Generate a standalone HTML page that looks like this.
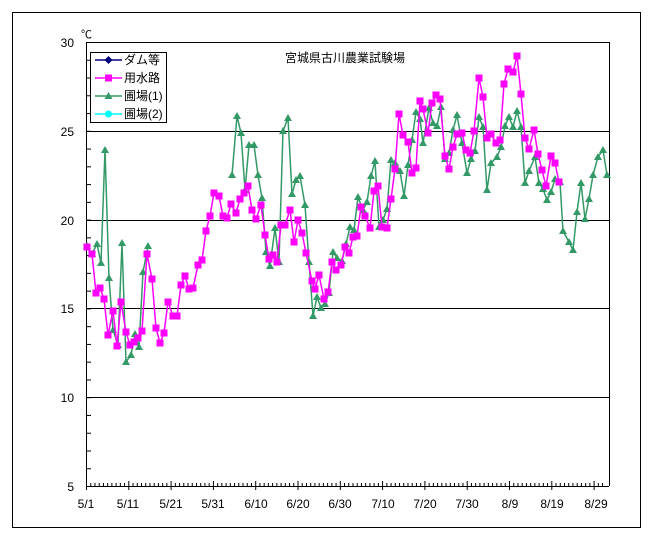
<!DOCTYPE html>
<html><head><meta charset="utf-8"><style>
html,body{margin:0;padding:0;background:#fff;}
svg{display:block;font-family:"Liberation Sans","Noto Sans CJK JP",sans-serif;}
</style></head><body>
<svg width="653" height="541" viewBox="0 0 653 541" xmlns="http://www.w3.org/2000/svg">
<defs>
<path id="tri" d="M0,-4 L4,3 L-4,3 Z" fill="#339966"/>
<rect id="sq" x="-3.5" y="-3.5" width="7" height="7" fill="#FF00FF"/>
</defs>
<rect x="12.5" y="12.5" width="628" height="515" fill="none" stroke="#000" stroke-width="1"/>
<g stroke="#000" stroke-width="1">
<line x1="86" y1="42.5" x2="609" y2="42.5"/>
<line x1="86" y1="131.5" x2="609" y2="131.5"/>
<line x1="86" y1="220.5" x2="609" y2="220.5"/>
<line x1="86" y1="308.5" x2="609" y2="308.5"/>
<line x1="86" y1="397.5" x2="609" y2="397.5"/>
<line x1="86" y1="486.5" x2="609" y2="486.5"/>
<line x1="86.5" y1="42" x2="86.5" y2="486"/>
<line x1="609.5" y1="42" x2="609.5" y2="486"/>
</g>
<g id="yt" stroke="#000" stroke-width="1"></g>
<g id="xt" stroke="#000" stroke-width="1"></g>
<g font-size="12" fill="#000" text-anchor="end">
<text x="74" y="47">30</text><text x="74" y="136">25</text><text x="74" y="225">20</text>
<text x="74" y="313">15</text><text x="74" y="402">10</text><text x="74" y="491">5</text>
</g>
<text x="81" y="38" font-size="11">℃</text>
<g font-size="12" text-anchor="middle">
<text x="86" y="508">5/1</text><text x="128" y="508">5/11</text><text x="171" y="508">5/21</text>
<text x="213" y="508">5/31</text><text x="256" y="508">6/10</text><text x="298" y="508">6/20</text>
<text x="340" y="508">6/30</text><text x="383" y="508">7/10</text><text x="425" y="508">7/20</text>
<text x="467" y="508">7/30</text><text x="510" y="508">8/9</text><text x="552" y="508">8/19</text>
<text x="596" y="508">8/29</text>
</g>
<text x="345" y="62" font-size="12" text-anchor="middle">宮城県古川農業試験場</text>
<g id="series"></g>
<rect x="90.5" y="52.5" width="76" height="70" fill="#fff" stroke="#000"/>
<g font-size="12">
<line x1="95" y1="60" x2="122" y2="60" stroke="#000080" stroke-width="1.5"/>
<path d="M108.5,56 L112.5,60 L108.5,64 L104.5,60Z" fill="#000080"/>
<text x="124" y="64">ダム等</text>
<line x1="95" y1="78" x2="122" y2="78" stroke="#FF00FF" stroke-width="1.5"/>
<rect x="105" y="74.5" width="7" height="7" fill="#FF00FF"/>
<text x="124" y="82">用水路</text>
<line x1="95" y1="96" x2="122" y2="96" stroke="#339966" stroke-width="1.5"/>
<path d="M108.5,92 L112.5,99 L104.5,99Z" fill="#339966"/>
<text x="124" y="100">圃場(1)</text>
<line x1="95" y1="114" x2="122" y2="114" stroke="#00FFFF" stroke-width="1.5"/>
<circle cx="108.5" cy="114" r="3.5" fill="#00FFFF"/>
<text x="124" y="118">圃場(2)</text>
</g>
<script>
(function(){
var ns="http://www.w3.org/2000/svg";
function el(t,a,p){var e=document.createElementNS(ns,t);for(var k in a)e.setAttribute(k,a[k]);p.appendChild(e);return e;}
var yt=document.getElementById('yt');
for(var v=5;v<=30;v++){var y=486.5-(v-5)*17.76;el('line',{x1:86,y1:y,x2:91,y2:y},yt);}
var xt=document.getElementById('xt');
for(var d=0;d<=122;d++){var x=86.5+d*4.23;var maj=d%10==0;el('line',{x1:x,y1:maj?490:486,x2:x,y2:maj?481:483},xt);}
var g1a=[[87,246],[92,254],[97,244],[101,263],[105,150],[109,278],[113,330],[118,345],[122,243],[126,362],[131,355],[135,334],[139,347],[143,272],[148,246]];
var g1b=[[232,175],[237,116],[241,133],[245,190],[249,145],[254,145],[258,175],[262,198],[266,252],[270,266],[275,228],[279,262],[283,131],[288,118],[292,194],[296,180],[300,176],[305,205],[309,262],[313,316],[317,297],[321,308],[325,304],[329,293],[333,252],[337,258],[342,261],[346,244],[350,227],[354,230],[358,197],[363,210],[367,202],[371,176],[375,161],[379,227],[383,220],[387,209],[391,160],[395,163],[400,171],[404,196],[408,165],[412,140],[416,112],[420,119],[423,143],[429,108],[433,123],[437,126],[441,107],[445,159],[449,153],[453,130],[457,115],[462,143],[467,173],[471,159],[475,151],[479,117],[483,127],[487,190],[491,163],[497,157],[501,147],[505,126],[509,117],[513,127],[517,111],[521,127],[525,183],[529,171],[535,157],[539,183],[543,189],[547,200],[551,192],[555,179],[560,182],[563,231],[569,242],[573,250],[577,212],[581,183],[585,219],[589,199],[593,175],[598,157],[603,150],[607,175]];
var pk=[[87,247],[92,254],[96,293],[100,288],[104,299],[108,335],[113,311],[117,346],[121,302],[126,332],[130,345],[134,342],[138,338],[142,331],[147,254],[152,279],[156,328],[160,343],[164,333],[168,302],[173,316],[177,316],[181,285],[185,276],[189,289],[193,288],[198,265],[202,260],[206,231],[210,216],[214,193],[219,196],[223,216],[227,218],[231,204],[236,213],[240,199],[244,193],[248,186],[252,210],[256,219],[261,205],[265,235],[269,259],[273,255],[277,262],[281,225],[285,225],[290,210],[294,242],[298,220],[302,233],[306,253],[312,281],[315,289],[319,275],[324,299],[328,292],[332,262],[336,270],[341,265],[345,247],[349,253],[353,237],[357,236],[361,207],[365,216],[370,228],[374,191],[378,186],[382,227],[387,228],[391,199],[395,169],[399,114],[403,135],[408,142],[412,173],[416,168],[420,101],[423,109],[428,133],[432,103],[436,95],[440,99],[445,156],[449,169],[453,147],[457,134],[462,133],[466,150],[470,153],[474,131],[479,78],[483,97],[487,138],[491,134],[496,143],[500,140],[504,84],[508,69],[513,72],[517,56],[521,94],[525,138],[529,149],[534,130],[538,154],[542,170],[546,186],[551,156],[555,163],[559,182]];
var s=document.getElementById('series');
function line(pts,c){el('polyline',{points:pts.map(function(p){return p.join(',')}).join(' '),fill:'none',stroke:c,'stroke-width':1.5},s);}
line(g1a,'#339966');line(g1b,'#339966');
g1a.concat(g1b).forEach(function(p){el('use',{href:'#tri',x:p[0],y:p[1]},s);});
line(pk,'#FF00FF');
pk.forEach(function(p){el('use',{href:'#sq',x:p[0],y:p[1]},s);});
})();
</script>
</svg>
</body></html>
